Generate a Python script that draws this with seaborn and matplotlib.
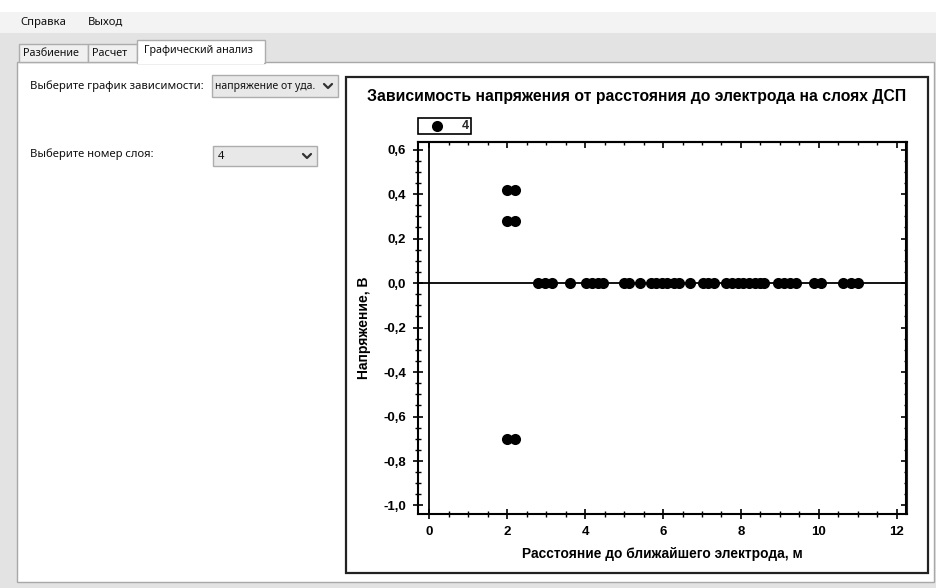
import matplotlib
matplotlib.use("Agg")
import matplotlib.pyplot as plt
import seaborn as sns
import pandas as pd
from matplotlib.patches import Rectangle
from matplotlib.lines import Line2D
from matplotlib.ticker import MultipleLocator, FixedLocator, FixedFormatter

# ---------------- data ----------------
layer_label = "4"
# points off the zero line (x = distance, m ; y = voltage, V)
off_distance = [2.0, 2.2, 2.0, 2.2, 2.0, 2.2]
off_voltage = [0.42, 0.42, 0.28, 0.28, -0.70, -0.70]
# points lying on the zero line
zero_distance = [2.8, 2.97, 3.15, 3.6, 4.02, 4.17, 4.32, 4.47, 5.0, 5.13, 5.4,
                 5.68, 5.82, 5.97, 6.1, 6.27, 6.4, 6.7, 7.02, 7.15, 7.3, 7.62,
                 7.77, 7.92, 8.05, 8.2, 8.35, 8.5, 8.6, 8.95, 9.1, 9.25, 9.42,
                 9.87, 10.05, 10.62, 10.82, 11.0]
zero_voltage = [0.0, 0.0, 0.0, 0.0, 0.0, 0.0, 0.0, 0.0, 0.0, 0.0, 0.0,
                0.0, 0.0, 0.0, 0.0, 0.0, 0.0, 0.0, 0.0, 0.0, 0.0, 0.0,
                0.0, 0.0, 0.0, 0.0, 0.0, 0.0, 0.0, 0.0, 0.0, 0.0, 0.0,
                0.0, 0.0, 0.0, 0.0, 0.0]

x_ticks = [0, 2, 4, 6, 8, 10, 12]
x_tick_labels = ["0", "2", "4", "6", "8", "10", "12"]
y_ticks = [0.6, 0.4, 0.2, 0.0, -0.2, -0.4, -0.6, -0.8, -1.0]
y_tick_labels = ["0,6", "0,4", "0,2", "0,0", "-0,2", "-0,4", "-0,6", "-0,8", "-1,0"]

title_text = "Зависимость напряжения от расстояния до электрода на слоях ДСП"
x_label = "Расстояние до ближайшего электрода, м"
y_label = "Напряжение, В"

menu_items = ["Справка", "Выход"]
tab_names = ["Разбиение", "Расчет", "Графический анализ"]
label_dependency = "Выберите график зависимости:"
combo_dependency = "напряжение от уда."
label_layer = "Выберите номер слоя:"
combo_layer = "4"

df = pd.DataFrame({
    "distance": off_distance + zero_distance,
    "voltage": off_voltage + zero_voltage,
})

# ---------------- figure ----------------
sns.set_style("white")
plt.rcParams["font.family"] = ["Liberation Sans", "DejaVu Sans"]

W, H = 937, 588
fig = plt.figure(figsize=(W / 100, H / 100), dpi=100)
fig.patch.set_facecolor("#e3e3e3")


def fx(x):
    return x / W


def fy(y):
    return 1 - y / H


def rect(x0, y0, x1, y1, fc, ec="none", lw=1.0, z=0):
    r = Rectangle((fx(x0), fy(y1)), fx(x1) - fx(x0), fy(y0) - fy(y1),
                  transform=fig.transFigure, facecolor=fc, edgecolor=ec,
                  linewidth=lw, zorder=z)
    fig.add_artist(r)
    return r


def chevron(cx, cy):
    fig.add_artist(Line2D([fx(cx - 4), fx(cx), fx(cx + 4)],
                          [fy(cy - 2), fy(cy + 2), fy(cy - 2)],
                          transform=fig.transFigure, color="#333333", lw=1.6,
                          solid_capstyle="round", solid_joinstyle="round"))


ui_font = ["Noto Sans", "DejaVu Sans"]
ui_size = 8.1

# window chrome
rect(0, 0, W, 12, "white")
rect(0, 12, W, 33, "#f3f3f3")
fig.text(fx(20), fy(22.5), menu_items[0], family=ui_font, fontsize=ui_size,
         va="center", ha="left", color="#111111")
fig.text(fx(88), fy(22.5), menu_items[1], family=ui_font, fontsize=ui_size,
         va="center", ha="left", color="#111111")

# tab panel
rect(17, 62, 934, 582, "white", "#a8a8a8", 1.0)
rect(19, 44, 88, 62, "#f0f0f0", "#adadad", 1.0)
rect(88, 44, 137, 62, "#f0f0f0", "#adadad", 1.0)
rect(137, 40, 265, 62.5, "white", "#adadad", 1.0)
rect(137.6, 61, 264.4, 63.5, "white")
fig.text(fx(23), fy(53.5), tab_names[0], family=ui_font, fontsize=ui_size - 0.3,
         va="center", ha="left", color="#111111")
fig.text(fx(92), fy(53.5), tab_names[1], family=ui_font, fontsize=ui_size - 0.3,
         va="center", ha="left", color="#111111")
fig.text(fx(144), fy(50.5), tab_names[2], family=ui_font, fontsize=ui_size - 0.3,
         va="center", ha="left", color="#111111")

# controls
fig.text(fx(30), fy(86), label_dependency, family=ui_font, fontsize=ui_size,
         va="center", ha="left", color="#111111")
rect(212, 75, 338, 97, "#e8e8e8", "#adadad", 1.0)
fig.text(fx(215), fy(86), combo_dependency, family=ui_font, fontsize=7.5,
         va="center", ha="left", color="#111111")
chevron(328, 86)

fig.text(fx(30), fy(154), label_layer, family=ui_font, fontsize=ui_size,
         va="center", ha="left", color="#111111")
rect(213, 146, 317, 166, "#e8e8e8", "#adadad", 1.0)
fig.text(fx(218), fy(156), combo_layer, family=ui_font, fontsize=ui_size,
         va="center", ha="left", color="#111111", weight="bold")
chevron(307, 156)

# chart box
rect(346, 77, 928, 573, "white", "#222222", 1.6)
fig.text(fx(637), fy(96), title_text, fontsize=11.3, weight="bold",
         ha="center", va="center", color="black")

# ---------------- axes ----------------
ax_left, ax_right, ax_top, ax_bottom = 418.5, 906.5, 142, 513.5
ax = fig.add_axes([fx(ax_left), fy(ax_bottom), fx(ax_right) - fx(ax_left),
                   fy(ax_top) - fy(ax_bottom)])
ax.set_facecolor("white")
ax.set_zorder(5)

ax.axhline(0, color="black", lw=1.3, zorder=1)
ax.axvline(0, color="black", lw=1.3, zorder=1)

sns.scatterplot(data=df, x="distance", y="voltage", ax=ax, color="black",
                s=64, linewidth=0, marker="o", label=layer_label, zorder=3)

ax.set_xlim(-0.277, 12.25)
ax.set_ylim(-1.036, 0.634)

ax.xaxis.set_major_locator(FixedLocator(x_ticks))
ax.xaxis.set_major_formatter(FixedFormatter(x_tick_labels))
ax.yaxis.set_major_locator(FixedLocator(y_ticks))
ax.yaxis.set_major_formatter(FixedFormatter(y_tick_labels))
ax.xaxis.set_minor_locator(MultipleLocator(0.5))
ax.yaxis.set_minor_locator(MultipleLocator(0.05))

ax.tick_params(which="major", direction="inout", length=7.5, width=1.2,
               labelsize=9.5, pad=5, color="black", labelcolor="black",
               bottom=True, left=True, top=False, right=False)
ax.tick_params(which="minor", direction="inout", length=4.2, width=1.0,
               color="black", bottom=True, left=True, top=False, right=False)
for lab in ax.get_xticklabels() + ax.get_yticklabels():
    lab.set_fontweight("bold")

for sp in ax.spines.values():
    sp.set_color("black")
    sp.set_linewidth(1.5)

# inward ticks on top and right
secx = ax.secondary_xaxis("top")
secx.xaxis.set_major_locator(FixedLocator(x_ticks))
secx.xaxis.set_minor_locator(MultipleLocator(0.5))
secx.tick_params(which="major", direction="in", length=4, width=1.2,
                 top=True, labeltop=False, color="black")
secx.tick_params(which="minor", direction="in", length=2.5, width=1.0,
                 top=True, color="black")
secx.spines["top"].set_linewidth(1.5)

secy = ax.secondary_yaxis("right")
secy.yaxis.set_major_locator(FixedLocator(y_ticks))
secy.yaxis.set_minor_locator(MultipleLocator(0.05))
secy.tick_params(which="major", direction="in", length=4, width=1.2,
                 right=True, labelright=False, color="black")
secy.tick_params(which="minor", direction="in", length=2.5, width=1.0,
                 right=True, color="black")
secy.spines["right"].set_linewidth(1.5)

ax.set_xlabel(x_label, fontsize=9.9, weight="bold", color="black", labelpad=7)
ax.set_ylabel(y_label, fontsize=10, weight="bold", color="black")
ax.yaxis.set_label_coords(-0.097, 0.5)

leg = ax.legend(loc="lower left", bbox_to_anchor=(0.0, 1.022),
                borderaxespad=0, frameon=True, fancybox=False,
                edgecolor="black", framealpha=1, handletextpad=0.7,
                borderpad=0.15, handlelength=2.6,
                prop={"weight": "bold", "size": 9})
leg.get_frame().set_linewidth(1.2)

fig.savefig("out.png", dpi=100, facecolor=fig.get_facecolor())
